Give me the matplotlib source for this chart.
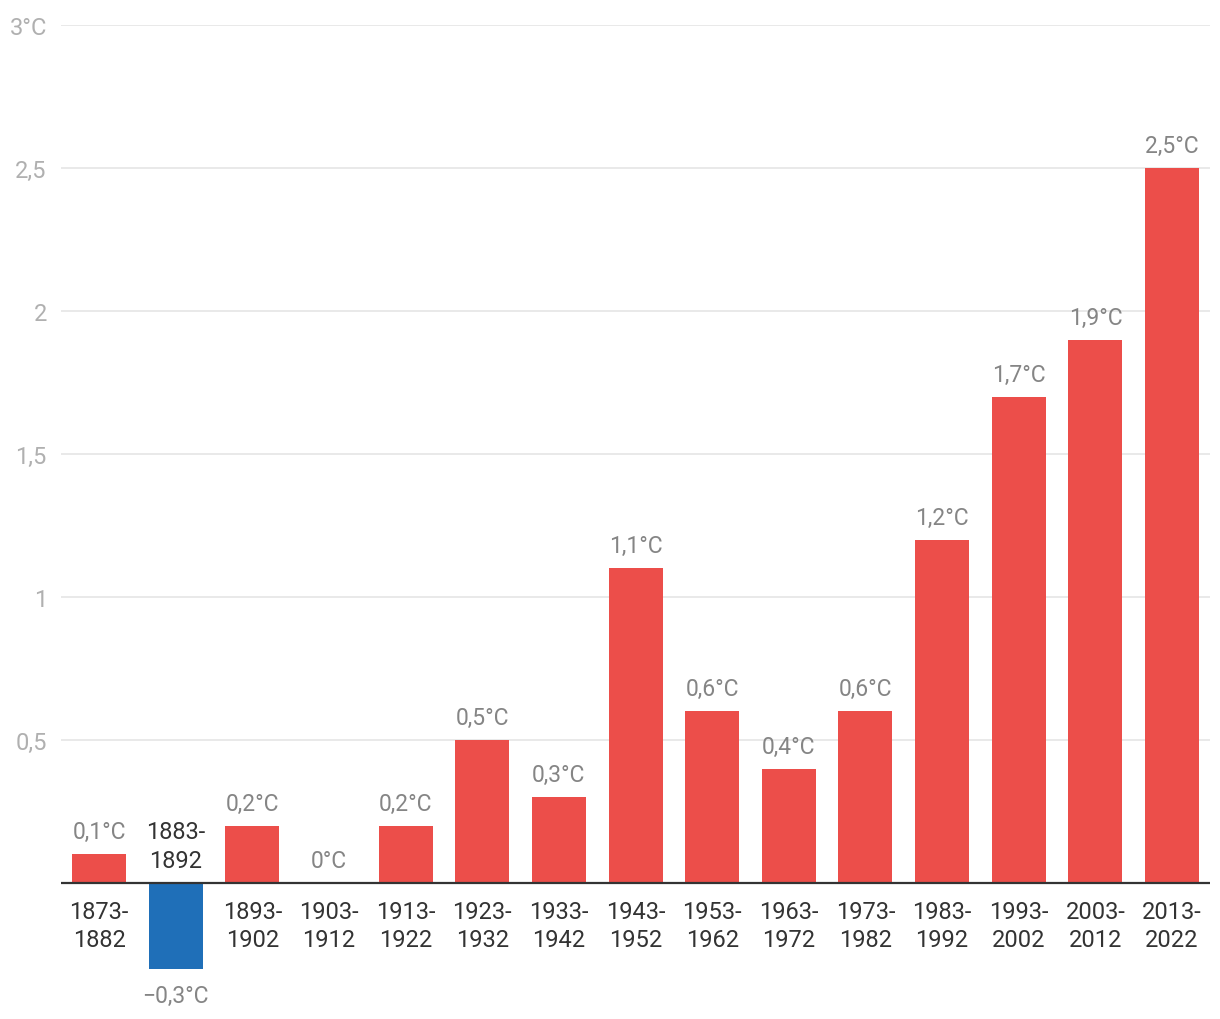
import matplotlib
matplotlib.use('Agg')
import matplotlib.pyplot as plt

periods = ['1873-\n1882', '1883-\n1892', '1893-\n1902', '1903-\n1912', '1913-\n1922',
           '1923-\n1932', '1933-\n1942', '1943-\n1952', '1953-\n1962', '1963-\n1972',
           '1973-\n1982', '1983-\n1992', '1993-\n2002', '2003-\n2012', '2013-\n2022']
anomaly = [0.1, -0.3, 0.2, 0.0, 0.2, 0.5, 0.3, 1.1, 0.6, 0.4, 0.6, 1.2, 1.7, 1.9, 2.5]
yticks = [0.5, 1, 1.5, 2, 2.5, 3]
ytick_labels = ['0,5', '1', '1,5', '2', '2,5', '3°C']

RED = '#EC4E4A'
BLUE = '#1F6FB8'
FONT = ['Roboto', 'DejaVu Sans']

plt.rcParams['font.family'] = FONT

fig = plt.figure(figsize=(12.2, 10.2), dpi=100)
fig.patch.set_facecolor('white')
ax = fig.add_axes([0.0498, 0.0492, 0.9423, 0.9253])
ax.set_xlim(-0.5, len(periods) - 0.5)
ax.set_ylim(-0.3, 3)

x = list(range(len(periods)))
colors = [BLUE if v < 0 else RED for v in anomaly]
ax.bar(x, anomaly, width=0.705, color=colors, zorder=2)

# grid
for t in yticks:
    ax.axhline(t, color='#e3e3e3', lw=1.1, zorder=0)
ax.axhline(0, color='#333333', lw=1.6, zorder=3)

ax.set_yticks(yticks)
ax.set_yticklabels(ytick_labels)
ax.tick_params(axis='y', length=0, pad=10, labelsize=17, labelcolor='#b0b0b0')
ax.set_xticks([])
for s in ax.spines.values():
    s.set_visible(False)

def fmt(v):
    if v == 0:
        return '0°C'
    s = f'{abs(v):.1f}'.replace('.', ',') + '°C'
    return ('\u2212' + s) if v < 0 else s

for xi, v, lab in zip(x, anomaly, periods):
    if v >= 0:
        ax.annotate(fmt(v), (xi, v), xytext=(0, 8), textcoords='offset points',
                    ha='center', va='bottom', fontsize=16.5, color='#858585')
        ax.annotate(lab, (xi, 0), xytext=(0, -12), textcoords='offset points',
                    ha='center', va='top', fontsize=17, color='#333333',
                    linespacing=1.32)
    else:
        ax.annotate(fmt(v), (xi, v), xytext=(0, -11), textcoords='offset points',
                    ha='center', va='top', fontsize=16.5, color='#858585')
        ax.annotate(lab, (xi, 0), xytext=(0, 8), textcoords='offset points',
                    ha='center', va='bottom', fontsize=17, color='#333333',
                    linespacing=1.32)

fig.savefig('out.png', dpi=100, facecolor='white')
